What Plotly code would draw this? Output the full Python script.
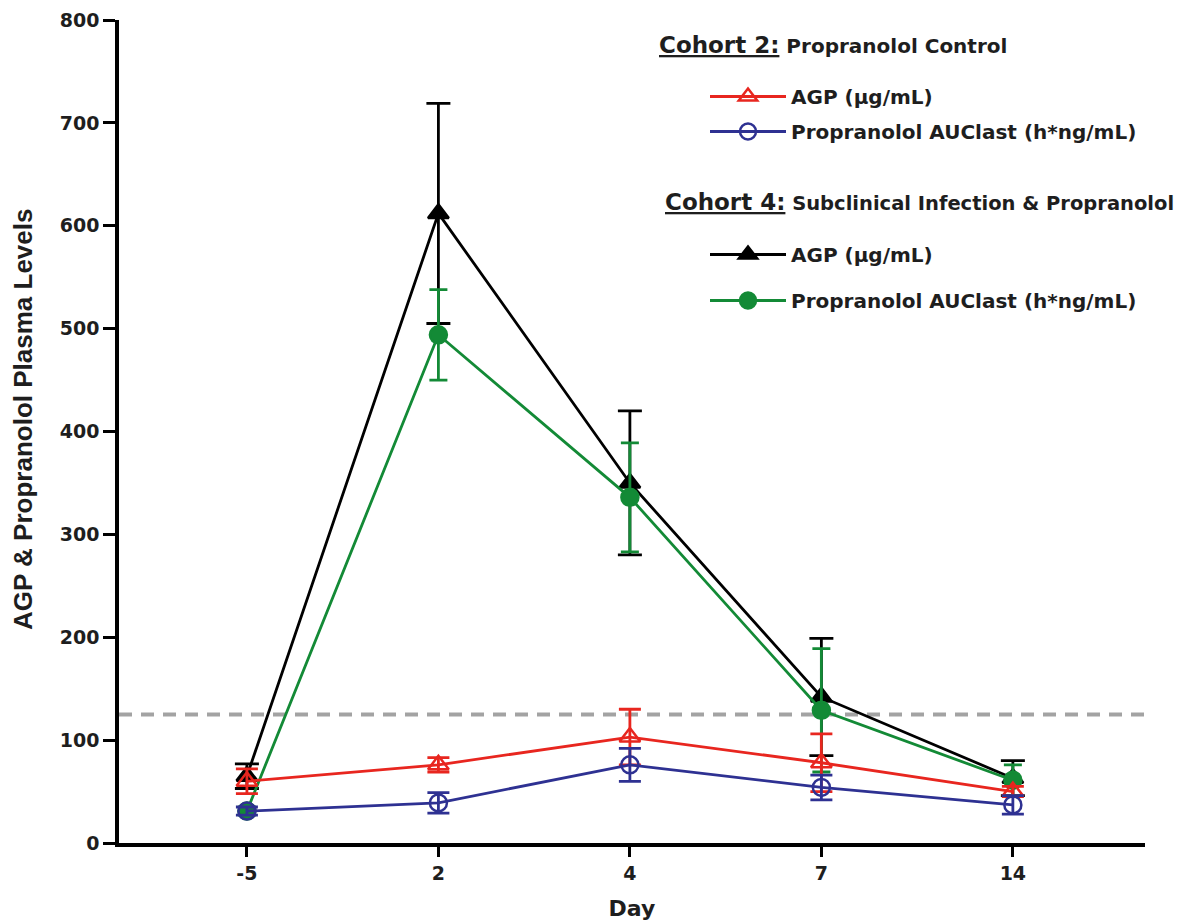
import plotly.graph_objects as go

days = ["-5", "2", "4", "7", "14"]

c2_agp = [60, 76, 103, 78, 50]
c2_agp_err = [12, 7, 27, 28, 5]
c2_auc = [31, 39, 76, 54, 37]
c2_auc_err = [4, 10, 16, 12, 9]

c4_agp = [65, 612, 350, 142, 63]
c4_agp_err = [12, 107, 70, 57, 17]
c4_auc = [31, 494, 336, 129, 61]
c4_auc_err = [4, 44, 53, 60, 15]

ref_line = 125

SANS = "DejaVu Sans, Verdana, sans-serif"
ARIAL = "Liberation Sans, Arial, sans-serif"
TXT = "#1e1e1e"

fig = go.Figure()

def add(y, err, color, symbol, size, cap, name, legend):
    fig.add_trace(go.Scatter(
        x=days, y=y, name=name, legend=legend, legendgroup=name + legend,
        mode="lines+markers",
        line=dict(color=color, width=2.8),
        marker=dict(symbol=symbol, size=size, color=color,
                    line=dict(color=color, width=2.5)),
        error_y=dict(type="data", array=err, visible=True,
                     color=color, thickness=2.8, width=cap),
    ))

add(c4_agp, c4_agp_err, "#000000", "triangle-up", 18, 12, "AGP (\u03bcg/mL)", "legend2")
add(c4_auc, c4_auc_err, "#138a36", "circle", 17, 9, "Propranolol AUClast (h*ng/mL)", "legend2")
add(c2_agp, c2_agp_err, "#e8261f", "triangle-up-open", 18, 11, "AGP (\u03bcg/mL)", "legend")
add(c2_auc, c2_auc_err, "#2e3192", "circle-open", 17, 11, "Propranolol AUClast (h*ng/mL)", "legend")

fig.add_hline(y=ref_line, line=dict(color="#a3a3a3", width=4, dash="13px,9px"), layer="below")

legend_common = dict(
    xanchor="left", yanchor="top", bgcolor="rgba(0,0,0,0)",
    font=dict(family=SANS, size=20, color=TXT, weight="bold"),
    itemwidth=76, traceorder="grouped",
)

PL, PW = 119, 1026  # screen x of plot left, plot width
PT, PH = 20, 823

def px(x):
    return (x - PL) / PW

def py(y):
    return 1 - (y - PT) / PH

fig.update_layout(
    width=1188, height=913,
    margin=dict(l=111, r=51, t=12, b=78),
    paper_bgcolor="white", plot_bgcolor="white",
    showlegend=True,
    legend=dict(x=px(705), y=py(77), tracegroupgap=6, **legend_common),
    legend2=dict(x=px(705), y=py(235), tracegroupgap=17, **legend_common),
    font=dict(family=SANS, color=TXT),
    xaxis=dict(
        type="category", range=[-0.668, 4.69], automargin=False,
        showline=True, linecolor="black", linewidth=3.5,
        ticks="outside", ticklen=10, tickwidth=3, tickcolor="black",
        showgrid=False, zeroline=False,
        tickfont=dict(family=SANS, size=19, weight="bold", color=TXT),
        title=dict(text="Day", standoff=20,
                   font=dict(family=SANS, size=22, weight="bold", color=TXT)),
    ),
    yaxis=dict(
        range=[0, 800], dtick=100, automargin=False,
        showline=True, linecolor="black", linewidth=3.5,
        ticks="outside", ticklen=12, tickwidth=3, tickcolor="black",
        showgrid=False, zeroline=False,
        tickfont=dict(family=SANS, size=19, weight="bold", color=TXT),
    ),
    annotations=[
        dict(xref="paper", yref="paper", x=px(23), y=py(420),
             xanchor="center", yanchor="middle", showarrow=False, textangle=-90,
             text="AGP & Propranolol Plasma Levels",
             font=dict(family=ARIAL, size=26, weight="bold", color=TXT)),
        dict(xref="paper", yref="paper", x=px(657), y=py(45),
             xanchor="left", yanchor="middle", showarrow=False,
             text="<u>Cohort 2:</u><span style='font-size:20px'> Propranolol Control</span>",
             font=dict(family=SANS, size=23, weight="bold", color=TXT)),
        dict(xref="paper", yref="paper", x=px(663), y=py(202),
             xanchor="left", yanchor="middle", showarrow=False,
             text="<u>Cohort 4:</u><span style='font-size:19.5px'> Subclinical Infection & Propranolol</span>",
             font=dict(family=SANS, size=23, weight="bold", color=TXT)),
    ],
)

fig.write_html("out.html")
